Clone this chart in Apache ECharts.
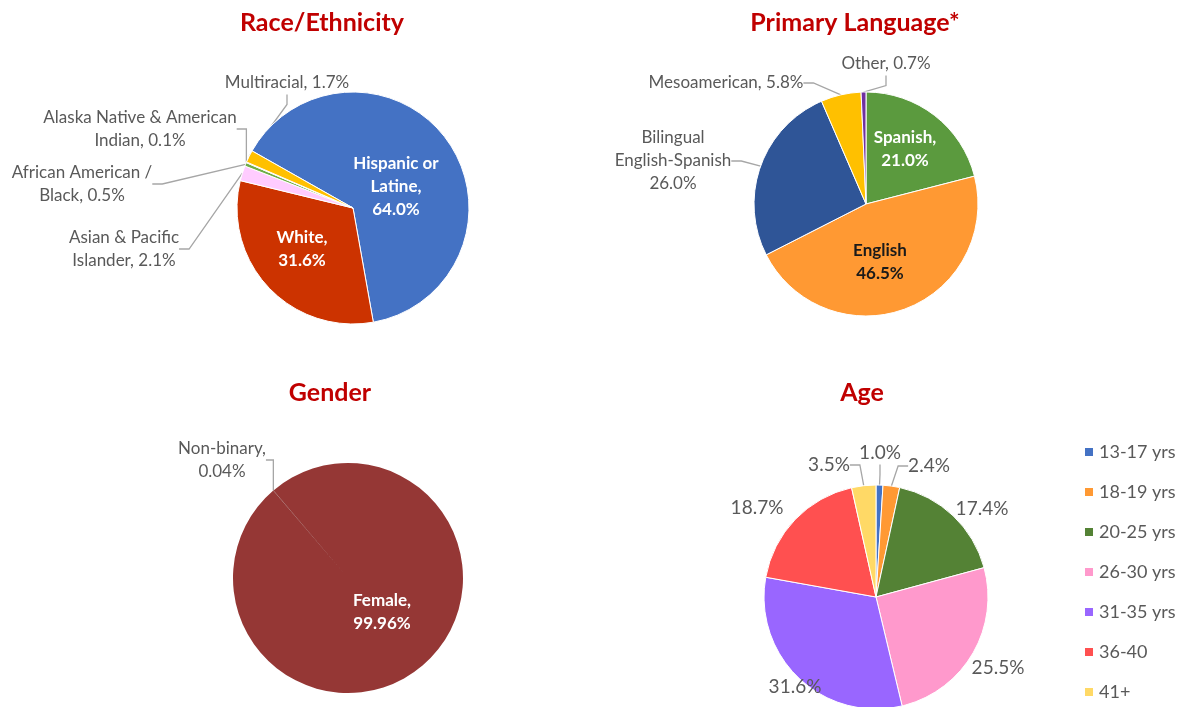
<!DOCTYPE html>
<html>
<head>
<meta charset="utf-8">
<script src="https://cdn.jsdelivr.net/npm/echarts@6/dist/echarts.min.js"></script>
<style>
  html, body { margin: 0; background: #fff; }
  #chart { width: 1194px; height: 707px; }
</style>
</head>
<body>
<div id="chart"></div>
<script>
// ---- data ----
const raceNames = ["Hispanic or Latine", "White", "Asian & Pacific Islander", "African American / Black", "Alaska Native & American Indian", "Multiracial"];
const raceLabels = ["Hispanic or\nLatine,\n", "White,\n", "Asian & Pacific\nIslander, ", "African American /\nBlack, ", "Alaska Native & American\nIndian, ", "Multiracial, "];
const raceValues = [64.0, 31.6, 2.1, 0.5, 0.1, 1.7];

const langNames = ["Spanish", "English", "Bilingual English-Spanish", "Mesoamerican", "Other"];
const langLabels = ["Spanish,\n", "English\n", "Bilingual\nEnglish-Spanish\n", "Mesoamerican, ", "Other, "];
const langValues = [21.0, 46.5, 26.0, 5.8, 0.7];

const genderNames = ["Female", "Non-binary"];
const genderLabels = ["Female,\n", "Non-binary,\n"];
const genderValues = [99.96, 0.04];

const ageNames = ["13-17 yrs", "18-19 yrs", "20-25 yrs", "26-30 yrs", "31-35 yrs", "36-40", "41+"];
const ageValues = [1.0, 2.4, 17.4, 25.5, 31.6, 18.7, 3.5];

// ---- styles ----
const raceColors = ["#4472C4", "#CC3300", "#FFCCFF", "#70AD47", "#A5A5A5", "#FFC000"];
const langColors = ["#5B9A3E", "#FF9933", "#2F5597", "#FFC000", "#7030A0"];
const genderColors = ["#953735", "#A5A5A5"];
const ageColors = ["#4472C4", "#FF9933", "#548235", "#FF99CC", "#9966FF", "#FF5050", "#FFD966"];

// label centre positions (px) and whether a label sits inside a slice
const racePos = [[396, 187], [302, 249], [124, 249], [82, 184], [140, 129], [287, 83]];
const raceInside = [true, true, false, false, false, false];
const langPos = [[905, 149], [880, 262], [673, 161], [726, 83], [886, 64]];
const langInside = [true, true, false, false, false];
const genderPos = [[382, 612], [222, 460]];
const genderInside = [true, false];
const agePos = [[880, 453], [929, 466], [982, 509], [998, 668], [795, 687], [757, 508], [829, 465]];
const ageLine = [true, true, false, false, false, false, true];

const FONT = "Lato";
const GRAY = "#595959";

function buildData(names, values, colors, inside, lineOn, labels, insideColor) {
  return names.map((n, i) => ({
    name: n,
    value: values[i],
    itemStyle: { color: colors[i] },
    label: inside && inside[i]
      ? { position: "inside", color: insideColor ? insideColor(i) : "#fff", fontWeight: "bold" }
      : { position: "outside", color: GRAY },
    labelLine: { show: !(inside && inside[i]) && (lineOn ? lineOn[i] : true) },
    _prefix: labels ? labels[i] : ""
  }));
}

function pieSeries(name, data, center, radius, startAngle, pos, decimals, border, fontSize) {
  return {
    type: "pie",
    name: name,
    center: center,
    radius: radius,
    startAngle: startAngle,
    clockwise: true,
    avoidLabelOverlap: false,
    silent: true,
    itemStyle: { borderColor: "#fff", borderWidth: border },
    label: {
      fontFamily: FONT,
      fontSize: fontSize,
      lineHeight: 23,
      align: "center",
      formatter: (p) => (p.data._prefix || "") + p.value.toFixed(decimals) + "%"
    },
    labelLine: { lineStyle: { color: "#A6A6A6", width: 1.3 }, length: 10, length2: 10 },
    labelLayout: (p) => ({
      x: pos[p.dataIndex][0],
      y: pos[p.dataIndex][1],
      align: "center",
      verticalAlign: "middle"
    }),
    data: data
  };
}

const chart = echarts.init(document.getElementById("chart"), null, { renderer: "canvas" });

const titleStyle = { color: "#C00000", fontFamily: FONT, fontSize: 25, fontWeight: "bold" };

chart.setOption({
  animation: false,
  title: [
    { text: "Race/Ethnicity", left: 317, top: 5, textAlign: "center", textStyle: titleStyle },
    { text: "Primary Language*", left: 850, top: 5, textAlign: "center", textStyle: titleStyle },
    { text: "Gender", left: 325, top: 375, textAlign: "center", textStyle: titleStyle },
    { text: "Age", left: 857, top: 375, textAlign: "center", textStyle: titleStyle }
  ],
  legend: {
    data: ageNames,
    orient: "vertical",
    left: 1083,
    top: 443,
    padding: 0,
    icon: "rect",
    itemWidth: 10,
    itemHeight: 10,
    itemGap: 22,
    selectedMode: false,
    textStyle: { color: GRAY, fontFamily: FONT, fontSize: 18, lineHeight: 18 }
  },
  series: [
    pieSeries("Race", buildData(raceNames, raceValues, raceColors, raceInside, null, raceLabels),
      [353, 208], 116, 150.5, racePos, 1, 1, 17),
    pieSeries("Language", buildData(langNames, langValues, langColors, langInside, null, langLabels,
      (i) => (i === 1 ? "#1a1a1a" : "#fff")),
      [866, 204], 112, 90, langPos, 1, 1, 17),
    pieSeries("Gender", buildData(genderNames, genderValues, genderColors, genderInside, null, genderLabels),
      [348, 578], 115, 130.4, genderPos, 2, 0, 17),
    pieSeries("Age", buildData(ageNames, ageValues, ageColors, null, ageLine, null),
      [876, 597], 112, 90, agePos, 1, 1, 19)
  ]
});
</script>
</body>
</html>
